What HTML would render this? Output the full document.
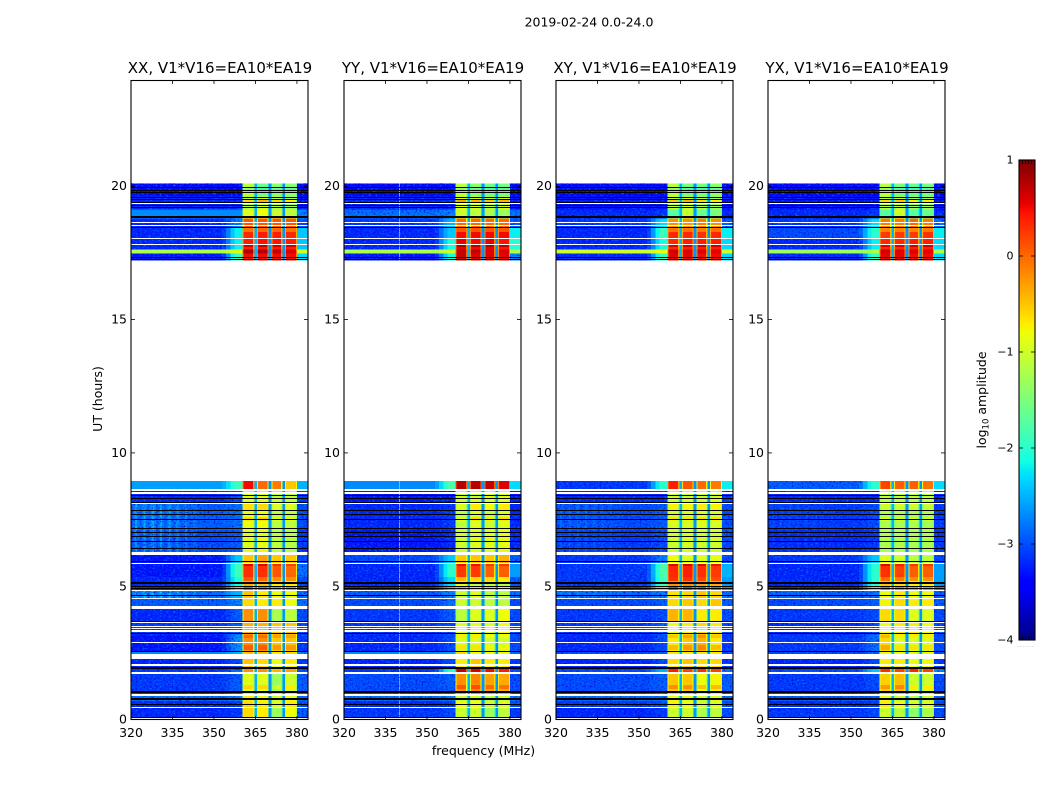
<!DOCTYPE html>
<html>
<head>
<meta charset="utf-8">
<title>2019-02-24 spectrogram</title>
<style>
html,body{margin:0;padding:0;background:#fff;}
svg{display:block;}
text{font-family:"DejaVu Sans","Liberation Sans",sans-serif;fill:#000;}
</style>
</head>
<body>
<svg id="chart" xmlns="http://www.w3.org/2000/svg" width="1050" height="800" viewBox="0 0 1050 800">
  <defs>
    <filter id="grain-light" x="0" y="0" width="100%" height="100%" color-interpolation-filters="sRGB">
      <feTurbulence type="fractalNoise" baseFrequency="0.45 0.6" numOctaves="2" seed="3"/>
      <feColorMatrix values="0 0 0 0 0  0 0 0 0 .5  0 0 0 0 1  2.6 0 0 0 -1.3"/>
    </filter>
    <filter id="grain-dark" x="0" y="0" width="100%" height="100%" color-interpolation-filters="sRGB">
      <feTurbulence type="fractalNoise" baseFrequency="0.5 0.65" numOctaves="2" seed="11"/>
      <feColorMatrix values="0 0 0 0 0  0 0 0 0 0  0 0 0 0 .85  0 2.6 0 0 -1.3"/>
    </filter>
  </defs>
  <text x="589" y="26.5" font-size="12.5" text-anchor="middle">2019-02-24 0.0-24.0</text>
  <text x="483.5" y="755" font-size="12.5" text-anchor="middle">frequency (MHz)</text>
  <text x="0" y="0" font-size="12.5" text-anchor="middle" transform="translate(102,399) rotate(-90)">UT (hours)</text>
  <text x="0" y="0" font-size="12.5" text-anchor="middle" transform="translate(986,400) rotate(-90)">log<tspan font-size="8.5" dy="2.5">10</tspan><tspan dy="-2.5"> amplitude</tspan></text>
</svg>
<script>
// Time grid (hours, UT) shared by all panels: one row between consecutive edges
const rowEdges = [0,.47,.70,.88,1.74,1.89,2.27,2.57,3.20,3.65,4.14,4.55,4.85,5.34,5.87,6.17,7.10,8.11,8.64,8.94,17.22,17.48,17.63,18.05,18.46,18.79,19.13,19.62,20.11];

// log10 amplitude per row: [below-band, band-shoulder, band1, band2, band3, band4, above-band]
const xxCells = [
[-3.2,-3.1,-.6,-.7,-1.3,-.8,-2.9],[-3.2,-3.1,-.6,-.7,-.9,-.7,-3],[-2.8,-2.7,-.7,-.8,-1,-.8,-2.8],
[-3.1,-2.9,-.9,-.9,-1.3,-1,-2.9],[-3.1,-2.8,-.2,-.2,-.4,-.3,-3],[-3.2,-3,-.5,-.6,-.8,-.7,-3.1],
[-2.7,-2.5,-.5,-.5,-.7,-.6,-2.7],[-3.3,-2.6,-.2,-.2,-.5,-.5,-3.1],[-3.1,-2.9,-.4,-.4,-.5,-.5,-3],
[-3.2,-2.9,-.2,-.2,-1.2,-1.1,-3],[-2.9,-2.7,-.6,-.7,-.7,-.8,-2.8],[-2.8,-2.5,-.5,-.7,-.8,-.8,-2.8],
[-3.2,-2.1,.1,0,-.2,-.2,-3],[-3.3,-1.9,.3,.3,.1,0,-2.8],[-3.3,-2.4,-.5,-.3,-.5,-.5,-3],
[-3,-2.9,-.9,-.85,-1.1,-1.15,-3.1],[-2.9,-2.8,-.85,-.8,-1.1,-1.1,-3],[-3.2,-3,-.9,-.9,-1.1,-1.1,-3.1],
[-2.6,-1.9,.5,0,-.1,-.5,-2.5],null,
[-3.3,-1.9,.5,.5,.5,.5,-2.3],[-1.2,-.9,.8,.8,.7,.6,-1],[-3.2,-2.2,.4,.45,.45,.4,-2.4],
[-3.2,-2.2,.35,.4,.4,.35,-2.4],[-3.2,-2.7,.1,.1,.1,.1,-3],[-2.7,-2.7,-.9,-.8,-1,-1.1,-2.7],
[-3.2,-3.2,-1.2,-1,-1.2,-1.3,-3.3],[-3.4,-3.4,-1.1,-1.6,-1.4,-1.4,-3.5]
];
const yyCells = [
[-3.1,-3,-1,-1,-1.3,-1.1,-3.1],[-3.2,-3.1,-.8,-.8,-1,-.9,-3],[-2.8,-2.7,-1,-1,-1.1,-1,-2.8],
[-3,-2.9,-.2,-.15,-.3,-.35,-3],[-3.1,-2,.7,.6,.5,.4,-3],[-3.2,-3,-.7,-.5,-.7,-.7,-3.1],
[-2.7,-2.6,-.6,-.8,-.8,-.8,-2.8],[-3.2,-3,-.9,-.9,-1,-1,-3],[-3.1,-3,-.9,-.85,-.9,-.8,-3],
[-3.1,-2.9,-1.1,-.9,-.9,-.8,-3],[-3,-2.8,-1,-1,-1.1,-1.1,-3],[-2.9,-2.7,-1,-.9,-1.1,-1.1,-2.8],
[-3.2,-2.3,-.4,-.6,-.6,-.7,-2.9],[-3.2,-2,.25,.25,.05,.05,-2.6],[-3,-2.4,-.5,-.5,-.5,-.4,-2.9],
[-3.3,-3.2,-1,-.9,-.9,-.85,-3.2],[-3.2,-3.1,-1.1,-.9,-1,-.9,-3.2],[-3.3,-3.3,-1,-1,-.9,-.9,-3.3],
[-2.7,-1.8,.75,.75,.7,.6,-2.3],null,
[-3.3,-2.1,.7,.6,.6,.55,-2.7],[-1.2,-1,.7,.7,.6,.6,-1.2],[-3.2,-2.1,.55,.5,.55,.45,-2],
[-3.2,-2.4,.5,.5,.5,.5,-2.2],[-3.1,-2.5,0,0,0,0,-2.9],[-2.8,-2.7,-1,-1.1,-1.2,-1.3,-2.8],
[-3.2,-3.2,-.9,-1,-1.1,-1,-3.3],[-3.4,-3.4,-1.1,-1.4,-1.5,-1.5,-3.5]
];
const xyCells = [
[-3.2,-3.1,-1,-1,-1.2,-1.1,-3],[-3.1,-3,-.75,-.8,-1,-.9,-3],[-2.8,-2.8,-.8,-.9,-1,-.9,-2.8],
[-3,-2.9,-.5,-.5,-.8,-.75,-2.9],[-3,-2.5,.4,.2,.3,.2,-2.8],[-3.2,-3,-.6,-.5,-.6,-.6,-3.1],
[-3,-2.9,-.7,-.7,-.7,-.7,-3],[-3.2,-3,-.7,-.5,-.4,-.7,-3.1],[-3.1,-2.9,-.8,-.7,-.6,-.7,-3],
[-3.1,-3,-.4,-.4,-.7,-.7,-3],[-3,-2.9,-.6,-.5,-.6,-.5,-2.9],[-2.85,-2.7,-.65,-.6,-.5,-.6,-2.8],
[-3.1,-1.9,.3,.3,.2,.15,-2.6],[-3.1,-1.8,.35,.4,.3,.25,-2.5],[-3.1,-2.7,-.8,-.9,-.9,-.85,-3],
[-3.1,-3,-1,-.95,-1,-1,-3],[-3,-2.9,-.95,-.95,-.9,-.95,-3],[-3.2,-3.2,-1,-1,-1,-1,-3.1],
[-3.1,-2,.4,.1,0,-.1,-2.2],null,
[-3.2,-1.9,.55,.55,.5,.5,-2.3],[-1,-.8,.65,.6,.6,.55,-1],[-3.2,-2.1,.35,.4,.4,.4,-2.3],
[-3.2,-1.9,.35,.35,.3,.35,-2.2],[-3.1,-2.3,-.2,-.2,-.1,-.2,-2.9],[-3.2,-3.1,-1.7,-1.05,-1.6,-1.5,-3.2],
[-3.3,-3.3,-1.1,-1,-1.2,-1.3,-3.3],[-3.4,-3.4,-1.1,-1.5,-1.5,-1.4,-3.5]
];
const yxCells = [
[-3.1,-3,-1,-1.1,-1.4,-1.2,-3],[-3.2,-3.1,-.7,-.8,-.9,-.9,-3],[-2.9,-2.9,-.8,-1,-1.1,-1,-2.9],
[-3.1,-3,-.55,-.45,-1,-1,-3],[-3,-2.4,.3,.2,.35,.2,-2.7],[-3.2,-3,-.7,-.7,-.8,-.8,-3.1],
[-3,-2.9,-.8,-.8,-.85,-.85,-3],[-3.1,-2.8,-.6,-.9,-.9,-.9,-3],[-3.2,-3,-.8,-.7,-.7,-.8,-3],
[-3.1,-3,-.6,-.6,-.9,-.9,-3],[-3,-2.9,-.75,-.6,-.7,-.7,-2.9],[-2.9,-2.8,-.8,-.7,-.8,-.8,-2.9],
[-3.2,-2,0,-.1,-.2,-.2,-2.6],[-3.2,-2,.3,.2,.05,.05,-2.6],[-3.1,-2.4,-.9,-1,-1.1,-1.1,-3],
[-3.2,-3.1,-1.2,-1.2,-1.2,-1.2,-3.1],[-3.1,-3,-1.2,-1.2,-1.2,-1.25,-3.1],[-3.2,-3.2,-1.1,-1.1,-1.1,-1.1,-3.2],
[-2.9,-2,.2,.05,.05,-.05,-2.3],null,
[-3.2,-1.9,.55,.55,.5,.5,-2.3],[-1.3,-1.2,.65,.6,.6,.55,-1.2],[-3.2,-2.2,.35,.35,.4,.4,-2.3],
[-3,-2,.25,.25,.25,.3,-2.2],[-3.1,-2.3,-.1,-.1,0,-.1,-2.8],[-3.2,-3.1,-1.7,-1,-1.7,-1.6,-3.2],
[-3.3,-3.3,-1.2,-1.1,-1.3,-1.3,-3.3],[-3.4,-3.4,-1.1,-1.5,-1.6,-1.5,-3.5]
];

// Flagged time ranges, hours. White = no data, black = zero amplitude.
const whiteFlags = [[.04,.075],[.43,.47],[.87,.96],[1.705,1.78],[2.02,2.08],[2.27,2.455],[2.87,2.905],[3.28,3.355],[3.39,3.43],[3.485,3.523],[3.617,3.654],[4.14,4.265],[4.516,4.554],[4.816,4.853],[5.83,5.87],[6.165,6.28],[8.074,8.11],[8.45,8.53],[8.575,8.64],[17.785,17.82],[18.03,18.07],[18.515,18.55],[18.61,18.645],[19.32,19.36]];
const blackFlags = [[0,.03],[.09,.11],[.54,.58],[.73,.81],[.99,1.07],[1.91,1.97],[2.55,2.59],[3.2,3.24],[3.67,3.71],[4.63,4.67],[4.89,4.93],[4.97,5.01],[5.1,5.16],[5.92,5.96],[6.41,6.45],[6.65,6.69],[6.84,6.88],[6.99,7.03],[7.14,7.18],[7.48,7.52],[7.66,7.7],[7.81,7.85],[8.11,8.15],[8.26,8.3],[8.38,8.42],[17.24,17.28],[17.33,17.35],[18.42,18.46],[18.81,18.87],[19.16,19.21],[19.28,19.3],[19.38,19.41],[19.47,19.51],[19.55,19.58],[19.74,19.77],[19.81,19.85],[19.92,19.96]];

// Time ranges where the in-band amplitude departs from its row level: [start, end, offset]
const bandLines = [[1.15,1.3,.3],[2.61,2.8,.25],[3.06,3.21,.2],[5.01,5.2,-.5],[5.76,5.87,.25],[7.46,7.58,.3],[7.85,8.11,.2],[17.72,17.83,.25],[18.28,18.47,-.4],[19.38,19.51,.6],[19.77,19.92,-.5]];

// Spectral layout, MHz
const bandRanges = [[360.3,364.6],[365.6,369.75],[370.75,374.7],[375.7,380]];
const bandGapLevels = [-2.5,-2.65,-2.65];
const lowBandStart = 320, lowBandStep = .75;
const lowRipple = [0,.2,.5,.2,0,.2,.55,.2,0,.25,.55,.25,0,.2,.55,.2,0,.2,.5,.2,0,.15,.4,.15,0,.1,.35,.1,0,.1,.2,.1,0,0,0,0,0,0,0,0,0,0];
const rippleRows = [11,15,16];
const shoulderBlend = [0,.15,.45,.8,1,1];
const panelRippleGain = [.8,0,.35,.2];
const rfiLine = {panel:1, freq:339.8, level:-2.2};

// Axis labels
const freqTicks = [320,335,350,365,380];
const timeTicks = [0,5,10,15,20];
const panelTitles = ["XX, V1*V16=EA10*EA19","YY, V1*V16=EA10*EA19","XY, V1*V16=EA10*EA19","YX, V1*V16=EA10*EA19"];
const panelKeys = ["xx","yy","xy","yx"];
const panelCells = [xxCells,yyCells,xyCells,yxCells];
const colorTicks = [1,0,-1,-2,-3,-4];

const panelLeft = [131,344,556,768];
const panelWidth = 177, plotTop = 80, plotBottom = 720;
const SVGNS = "http://www.w3.org/2000/svg";
const svg = document.getElementById("chart");

function xAxis(p){ return f => panelLeft[p] + (f - 320) * panelWidth / 64; }
function yAxis(t){ return plotBottom - .4 - t * 26.67; }
function cAxis(v){ return 640 - (v + 4) * 96; }

const cmapR = [[0,0],[.35,0],[.66,1],[.89,1],[1,.5]];
const cmapG = [[0,0],[.125,0],[.375,1],[.64,1],[.91,0],[1,0]];
const cmapB = [[0,.5],[.11,1],[.34,1],[.65,0],[1,0]];
function lerp(tab,x){
  for(let i=1;i<tab.length;i++){
    if(x<=tab[i][0]){
      const a=tab[i-1],b=tab[i];
      return a[1]+(b[1]-a[1])*(x-a[0])/(b[0]-a[0]);
    }
  }
  return tab[tab.length-1][1];
}
function color(v){
  const x=Math.max(0,Math.min(1,(v+4)/5));
  return "rgb("+Math.round(255*lerp(cmapR,x))+","+Math.round(255*lerp(cmapG,x))+","+Math.round(255*lerp(cmapB,x))+")";
}
function mk(tag,attrs,parent){
  const e=document.createElementNS(SVGNS,tag);
  for(const k in attrs){ e.setAttribute(k,attrs[k]); }
  parent.appendChild(e);
  return e;
}
function cell(g,x0,x1,y0,y1,v){
  const el=mk("rect",{x:x0,y:y1,width:Math.max(x1-x0,.5),height:y0-y1,fill:color(v),"shape-rendering":"crispEdges"},g);
  
  
}

panelKeys.forEach((key,p)=>{
  const X=xAxis(p), cells=panelCells[p];
  const panel=mk("g",{},svg);
  
  

  const heat=mk("g",{},panel);
  
  

  const clip=mk("clipPath",{id:"grain-clip-"+key},panel);
  
  

  cells.forEach((r,i)=>{
    if(!r) return;
    const y0=yAxis(rowEdges[i]), y1=yAxis(rowEdges[i+1]);
    const [low,trans,b1,b2,b3,b4,tail]=r;
    const lowEnd=lowBandStart+lowRipple.length*lowBandStep;
    const gain=panelRippleGain[p];
    if(gain>0 && rippleRows.includes(i)){
      lowRipple.forEach((d,j)=>{
        cell(heat,X(lowBandStart+j*lowBandStep),X(lowBandStart+(j+1)*lowBandStep),y0,y1,low+d*gain);
      });
    } else {
      cell(heat,X(lowBandStart),X(lowEnd),y0,y1,low);
    }
    const sw=(360.3-lowEnd)/shoulderBlend.length;
    shoulderBlend.forEach((w,j)=>{
      cell(heat,X(lowEnd+j*sw),X(lowEnd+(j+1)*sw),y0,y1,low+(trans-low)*w);
    });
    [b1,b2,b3,b4].forEach((v,j)=>{
      const [f0,f1]=bandRanges[j];
      const drop=v>-.3?.7:.3;
      cell(heat,X(f0),X(f0+.4),y0,y1,v-drop);
      cell(heat,X(f0+.4),X(f1-.4),y0,y1,v);
      cell(heat,X(f1-.4),X(f1),y0,y1,v-drop);
      bandLines.forEach(([a,b,off])=>{
        if(a>=rowEdges[i] && a<rowEdges[i+1]){
          const top=Math.min(b,rowEdges[i+1]);
          cell(heat,X(f0+.4),X(f1-.4),yAxis(a),yAxis(top),v+off);
        }
      });
      if(j<3){ cell(heat,X(f1),X(bandRanges[j+1][0]),y0,y1,bandGapLevels[j]); }
    });
    cell(heat,X(380),X(384),y0,y1,tail);
    if(rfiLine.panel===p && low<-2.4){
      cell(heat,X(rfiLine.freq),X(rfiLine.freq+.36),y0,y1,rfiLine.level);
    }
    if(low<-2.75){
      const grainEnd = trans<-2.5 ? 360.3 : 354;
      const c1=mk("rect",{x:X(320),y:y1,width:X(grainEnd)-X(320),height:y0-y1},clip);
      
      
    }
    if(tail<-2.6){
      const c2=mk("rect",{x:X(380),y:y1,width:X(384)-X(380),height:y0-y1},clip);
      
      
    }
  });

  const grain=mk("g",{"clip-path":"url(#grain-clip-"+key+")"},panel);
  
  
  ["grain-light","grain-dark"].forEach(f=>{
    const gr=mk("rect",{x:X(320),y:yAxis(20.2),width:panelWidth,height:yAxis(0)-yAxis(20.2),filter:"url(#"+f+")"},grain);
    
    
  });

  const wf=mk("g",{},panel);
  
  
  whiteFlags.forEach(([a,b])=>{
    const el=mk("rect",{x:X(320),y:Math.round(yAxis(b)),width:panelWidth,height:Math.max(1,Math.round(yAxis(a)-yAxis(b))),fill:"#fff","shape-rendering":"crispEdges"},wf);
    
    
  });
  const bf=mk("g",{},panel);
  
  
  blackFlags.forEach(([a,b])=>{
    const el=mk("rect",{x:X(320),y:Math.round(yAxis(b)),width:panelWidth,height:Math.max(1,Math.round(yAxis(a)-yAxis(b))),fill:"#000","shape-rendering":"crispEdges"},bf);
    
    
  });

  const frame=mk("rect",{x:panelLeft[p],y:plotTop+.5,width:panelWidth,height:plotBottom-plotTop-1,fill:"none",stroke:"#000","stroke-width":1.1},panel);
  
  

  freqTicks.forEach(f=>{
    const x=X(f);
    const t1=mk("line",{x1:x,x2:x,y1:plotBottom,y2:plotBottom-4,stroke:"#000","stroke-width":.8},panel);
    
    
    const t2=mk("line",{x1:x,x2:x,y1:plotTop,y2:plotTop+4,stroke:"#000","stroke-width":.8},panel);
    
    
    const lab=mk("text",{x:x,y:737,"font-size":12.5,"text-anchor":"middle"},panel);
    lab.textContent=f;
    
    
  });
  timeTicks.forEach(t=>{
    const y=yAxis(t);
    const t1=mk("line",{x1:panelLeft[p],x2:panelLeft[p]+4,y1:y,y2:y,stroke:"#000","stroke-width":.8},panel);
    
    
    const t2=mk("line",{x1:panelLeft[p]+panelWidth,x2:panelLeft[p]+panelWidth-4,y1:y,y2:y,stroke:"#000","stroke-width":.8},panel);
    
    
    const lab=mk("text",{x:panelLeft[p]-4,y:y+4,"font-size":12.5,"text-anchor":"end"},panel);
    lab.textContent=t;
    
    
  });
  const title=mk("text",{x:panelLeft[p]+panelWidth/2+.5,y:73,"font-size":15,"text-anchor":"middle"},panel);
  title.textContent=panelTitles[p];
  
  
});

// Colorbar
const cb=mk("g",{},svg);


const cbX=1019, cbW=16;
for(let i=0;i<240;i++){
  const v0=-4+i*5/240, v1=-4+(i+1)*5/240;
  const s=mk("rect",{x:cbX,y:cAxis(v1),width:cbW,height:cAxis(v0)-cAxis(v1)+.4,fill:color((v0+v1)/2),"shape-rendering":"crispEdges"},cb);
  
  
}
const cbFrame=mk("rect",{x:cbX,y:cAxis(1),width:cbW,height:cAxis(-4)-cAxis(1),fill:"none",stroke:"#000","stroke-width":1.1},cb);


colorTicks.forEach(v=>{
  const y=cAxis(v);
  const a=mk("line",{x1:cbX,x2:cbX+4,y1:y,y2:y,stroke:"#000","stroke-width":.8},cb);
  
  
  const b=mk("line",{x1:cbX+cbW,x2:cbX+cbW-4,y1:y,y2:y,stroke:"#000","stroke-width":.8},cb);
  
  
  const lab=mk("text",{x:cbX-5.5,y:y+3.5,"font-size":11,"text-anchor":"end"},cb);
  lab.textContent=(v<0?"\u2212":"")+Math.abs(v);
  
  
});
[3,6,9,12].forEach(o=>{
  [[cAxis(1),cAxis(1)+4],[cAxis(-4),cAxis(-4)-4]].forEach(([a,b])=>{
    const t=mk("line",{x1:cbX+o+.5,x2:cbX+o+.5,y1:a,y2:b,stroke:"#000","stroke-width":.8},cb);
    
    
  });
});
const dots=mk("text",{x:cbX-2,y:647,"font-size":6,"letter-spacing":"1.1"},cb);
dots.textContent="......";


dots.style.fill="#999";
</script>
</body>
</html>
